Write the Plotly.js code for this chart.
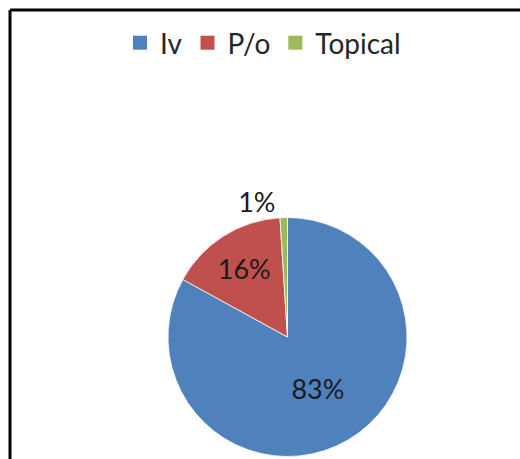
<!DOCTYPE html>
<html>
<head>
<meta charset="utf-8">
<script src="https://cdn.plot.ly/plotly-3.0.1.min.js"></script>
<style>html,body{margin:0;padding:0;background:#fff;}#chart{width:520px;height:459px;}</style>
</head>
<body>
<div id="chart"></div>
<script>
var categories = ['Iv', 'P/o', 'Topical'];
var shares = [83, 16, 1];
var sliceColors = ['#4F81BD', '#C0504D', '#9BBB59'];
var labelPositions = ['inside', 'inside', 'outside'];

var W = 520, H = 459;
var cx = 287.5, cy = 337, r = 119.5;
var fontFamily = 'Lato, "Open Sans", sans-serif';

var trace = {
  type: 'pie',
  labels: categories,
  values: shares,
  sort: false,
  direction: 'clockwise',
  rotation: 0,
  marker: {colors: sliceColors, line: {color: '#ffffff', width: 0.8}},
  textinfo: 'percent',
  texttemplate: '%{percent:.0%}',
  textposition: labelPositions,
  insidetextorientation: 'horizontal',
  textfont: {family: fontFamily, size: 27, color: '#1a1a1a'},
  outsidetextfont: {family: fontFamily, size: 27, color: '#1a1a1a'},
  hoverinfo: 'label+percent',
  domain: {x: [(cx - r) / W, (cx + r) / W], y: [(H - cy - r) / H, (H - cy + r) / H]}
};

var layout = {
  width: W, height: H,
  margin: {l: 0, r: 0, t: 0, b: 0},
  paper_bgcolor: '#ffffff',
  showlegend: true,
  legend: {
    orientation: 'h',
    x: 263 / W, xanchor: 'center',
    y: 1 - 43 / H, yanchor: 'middle',
    font: {family: fontFamily, size: 28, color: '#262626'},
    traceorder: 'normal'
  },
  shapes: [
    {type: 'line', xref: 'paper', yref: 'paper', x0: 10 / W, x1: 1.05, y0: 1 - 10 / H, y1: 1 - 10 / H, line: {color: '#000', width: 3}},
    {type: 'line', xref: 'paper', yref: 'paper', x0: 10 / W, x1: 10 / W, y0: -0.05, y1: 1 - 10 / H, line: {color: '#000', width: 3}}
  ]
};

Plotly.newPlot('chart', [trace], layout, {displayModeBar: false, staticPlot: true}).then(function (gd) {
  var pts = gd.querySelectorAll('.legend .legendpoints path');
  pts.forEach(function (p) {
    p.style.strokeWidth = '0px';
    p.setAttribute('d', 'M7,7H-7V-7H7Z');
  });
});
</script>
</body>
</html>
